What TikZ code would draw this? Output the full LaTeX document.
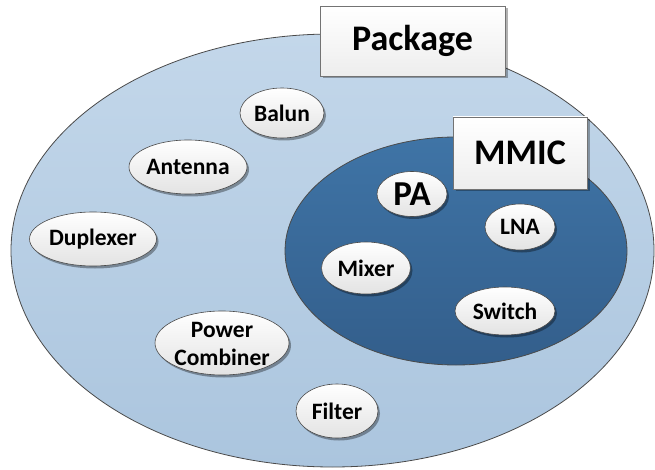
\documentclass[tikz,border=0pt]{standalone}
\usepackage{fontspec}
\setmainfont{Carlito}
\usetikzlibrary{shapes.geometric,shadows}
\definecolor{pkgtop}{HTML}{C3D7EA}
\definecolor{pkgbot}{HTML}{ABC5DE}
\definecolor{mmictop}{HTML}{3F74A6}
\definecolor{mmicbot}{HTML}{335E8B}
\definecolor{edge}{HTML}{4A4A4A}
\begin{document}
\begin{tikzpicture}[x=1pt,y=-1pt,
  region/.style={ellipse, draw=edge, line width=0.8pt, inner sep=0pt},
  bub/.style={ellipse, draw=edge, line width=0.6pt, top color=white, bottom color=black!11,
    inner sep=0pt, font=\fontsize{23.5}{28}\selectfont\bfseries,
    drop shadow={shadow xshift=2pt, shadow yshift=-2.5pt, opacity=0.35, fill=black}},
  tag/.style={rectangle, draw=black!55, line width=0.6pt, top color=white, bottom color=black!7,
    inner sep=0pt, font=\fontsize{36}{40}\selectfont\bfseries,
    drop shadow={shadow xshift=2.5pt, shadow yshift=-2.5pt, opacity=0.3, fill=black}},
  lbl/.style={inner sep=0pt, align=center, font=\fontsize{23.5}{28}\selectfont\bfseries}]
\useasboundingbox (0,0) rectangle (655,470);
% outer region
\node[region, top color=pkgtop, bottom color=pkgbot, minimum width=643, minimum height=433] (pkg) at (332.5,250.5) {};
\node[tag, minimum width=185, minimum height=70] (pkgtag) at (412.5,41) {Package};
% inner region
\node[region, top color=mmictop, bottom color=mmicbot, minimum width=342, minimum height=228] (mmic) at (456,251) {};
\node[tag, minimum width=134, minimum height=72] (mmictag) at (520,153) {MMIC};
% components in package
\node[bub, minimum width=84, minimum height=50] (balun) at (282,113) {Balun};
\node[bub, minimum width=118, minimum height=54] (antenna) at (188,167) {Antenna};
\node[bub, minimum width=127, minimum height=54] (duplexer) at (93,239) {Duplexer};
\node[bub, minimum width=134, minimum height=64] (combiner) at (222,343) {};
\node[lbl] (combinertext) at (222,344) {Power\\Combiner};
\node[bub, minimum width=82, minimum height=54] (filter) at (337,411) {Filter};
% components in MMIC
\node[bub, minimum width=70, minimum height=45, font=\fontsize{35}{38}\selectfont\bfseries] (pa) at (412,194) {PA};
\node[bub, minimum width=70, minimum height=46] (lna) at (520,227) {LNA};
\node[bub, minimum width=89, minimum height=52] (mixer) at (366,268) {Mixer};
\node[bub, minimum width=100, minimum height=48] (switch) at (505,311) {Switch};
\end{tikzpicture}
\end{document}
